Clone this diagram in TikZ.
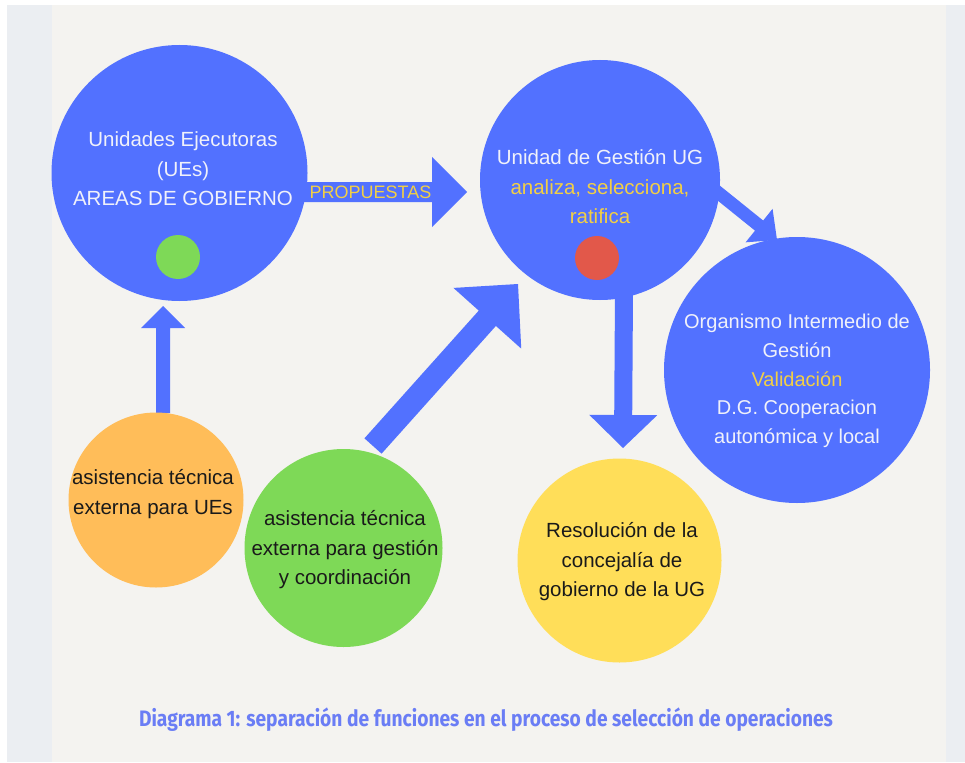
\documentclass[tikz,border=0pt]{standalone}
\usepackage{fontspec}
\setmainfont{Liberation Sans}
\newfontfamily\capfont[FakeStretch=0.86]{Fira Sans}
\usetikzlibrary{calc}
\definecolor{pagewhite}{HTML}{FFFFFF}
\definecolor{sidegray}{HTML}{EBEEF2}
\definecolor{paper}{HTML}{F4F3F0}
\definecolor{cblue}{HTML}{5271FF}
\definecolor{corange}{HTML}{FFBD59}
\definecolor{cgreen}{HTML}{7ED957}
\definecolor{cyellow}{HTML}{FFDE59}
\definecolor{cred}{HTML}{E2584A}
\definecolor{txtwhite}{HTML}{F0F1FA}
\definecolor{txtyellow}{HTML}{F2CF45}
\definecolor{txtblack}{HTML}{1A1A1A}
\definecolor{capblue}{HTML}{6A7DF5}
\newcommand\myblockarrow[5]{%
  \fill[cblue]
    ($(#1)!#3!90:(#2)$) --
    ($($(#2)!#5!(#1)$)!#3!90:(#2)$) --
    ($($(#2)!#5!(#1)$)!#4!90:(#2)$) --
    (#2) --
    ($($(#2)!#5!(#1)$)!#4!-90:(#2)$) --
    ($($(#2)!#5!(#1)$)!#3!-90:(#2)$) --
    ($(#1)!#3!-90:(#2)$) -- cycle;
}
\tikzset{
  disc/.style={circle, inner sep=0pt, outer sep=0pt},
  bigtxt/.style={align=center, inner sep=0pt, font=\fontsize{20.5}{29.5}\selectfont},
}
\begin{document}
\begin{tikzpicture}[x=1pt, y=-1pt]
\useasboundingbox (0,0) rectangle (965,762);
\fill[pagewhite] (0,0) rectangle (965,762);
\fill[sidegray] (7,5) rectangle (965,762);
\fill[paper] (52,5) rectangle (946,762);

% arrow end points
\coordinate (a1s) at (163,413);
\coordinate (a1e) at (163,306);
\coordinate (a2s) at (290,192);
\coordinate (a2e) at (467,192);
\coordinate (a3s) at (373,446);
\coordinate (a3e) at (518,284);
\coordinate (a4s) at (624,290);
\coordinate (a4e) at (623,448);
\coordinate (a5s) at (700,178);
\coordinate (a5e) at (777,240);

\myblockarrow{a1s}{a1e}{7pt}{22pt}{22pt}
\myblockarrow{a2s}{a2e}{10pt}{35pt}{35pt}
\myblockarrow{a3s}{a3e}{11.5pt}{45.5pt}{46pt}
\myblockarrow{a4s}{a4e}{9pt}{34pt}{33pt}
\myblockarrow{a5s}{a5e}{6.5pt}{21.5pt}{23pt}

% circles
\node[disc, fill=cblue, minimum size=256pt] (ues) at (179.5,173) {};
\node[disc, fill=cblue, minimum size=240pt] (ug) at (600,180) {};
\node[disc, fill=cblue, minimum size=266pt] (org) at (797,370) {};
\node[disc, fill=corange, minimum size=175pt] (ate) at (156,500) {};
\node[disc, fill=cgreen, minimum size=198pt] (atg) at (343.5,548) {};
\node[disc, fill=cyellow, minimum size=204pt] (res) at (619.5,560.5) {};
\node[disc, fill=cgreen, minimum size=44pt] (gdot) at (178,257) {};
\node[disc, fill=cred, minimum size=44pt] (rdot) at (597,258) {};

% texts
\node[bigtxt, text=txtwhite] (uesT) at (183,169) {Unidades Ejecutoras\\(UEs)\\AREAS DE GOBIERNO};
\node[bigtxt, text=txtwhite] (ugT) at (600,187) {Unidad de Gestión UG\\\textcolor{txtyellow}{analiza, selecciona,}\\\textcolor{txtyellow}{ratifica}};
\node[bigtxt, text=txtwhite, font=\fontsize{20}{28.7}\selectfont] (orgT) at (797,381) {Organismo Intermedio de\\Gestión\\\textcolor{txtyellow}{Validación}\\D.G. Cooperacion\\autonómica y local};
\node[bigtxt, text=txtblack] (ateT) at (153,494) {asistencia técnica\\externa para UEs};
\node[bigtxt, text=txtblack] (atgT) at (345,550) {asistencia técnica\\externa para gestión\\y coordinación};
\node[bigtxt, text=txtblack] (resT) at (622,562) {Resolución de la\\concejalía de\\gobierno de la UG};
\node[inner sep=0pt, text=txtyellow, font=\fontsize{18}{20}\selectfont] (propT) at (370.5,192) {PROPUESTAS};

\node[inner sep=0pt, text=capblue] (cap) at (486,720) {\resizebox{694pt}{!}{\capfont\bfseries\fontsize{17}{20}\selectfont Diagrama 1: separación de funciones en el proceso de selección de operaciones}};
\end{tikzpicture}
\end{document}
